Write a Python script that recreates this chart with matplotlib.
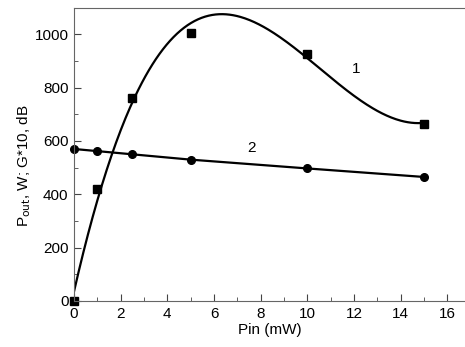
import numpy as np
import matplotlib.pyplot as plt
from matplotlib.ticker import MultipleLocator

plt.rcParams['font.family'] = ['Liberation Sans', 'DejaVu Sans']

# curve 1: output power (squares), curve 2: gain*10 (circles)
pin1 = [0, 1, 2.5, 5, 10, 15]
pout = [0, 420, 760, 1005, 925, 665]
pin2 = [0, 1, 2.5, 5, 10, 15]
gain10 = [570, 562, 550, 530, 497, 465]

fig = plt.figure(figsize=(4.65, 3.47), dpi=100)
ax = fig.add_axes([0.159, 0.1326, 0.841, 0.8454])

# smooth cubic fit through the squares
coef = np.polyfit(pin1, pout, 3)
xs = np.linspace(0, 15, 300)
ax.plot(xs, np.polyval(coef, xs), color='k', lw=1.6)
ax.plot(pin1, pout, 's', color='k', ms=5.5, clip_on=False)

ax.plot(pin2, gain10, '-o', color='k', lw=1.6, ms=5.5, clip_on=False)

ax.text(12.1, 870, '1', fontsize=11, ha='center', va='center')
ax.text(7.6, 573, '2', fontsize=11, ha='center', va='center')

ax.set_xlim(0, 16.75)
ax.set_ylim(0, 1100)
ax.xaxis.set_major_locator(MultipleLocator(2))
ax.xaxis.set_minor_locator(MultipleLocator(1))
ax.yaxis.set_major_locator(MultipleLocator(200))
ax.yaxis.set_minor_locator(MultipleLocator(100))
ax.tick_params(which='both', direction='in', labelsize=11, color='#444444', pad=4)
ax.tick_params(which='major', length=5)
ax.tick_params(which='minor', length=3)
ax.spines['right'].set_visible(False)
for s in ['left', 'bottom', 'top']:
    ax.spines[s].set_color('#666666')

ax.set_xlabel('Pin (mW)', fontsize=11, labelpad=2)
ax.set_ylabel(r'P$_{\rm out}$, W; G*10, dB', fontsize=11)
ax.yaxis.set_label_coords(-0.105, 0.46)

fig.savefig('out.png', dpi=100)
